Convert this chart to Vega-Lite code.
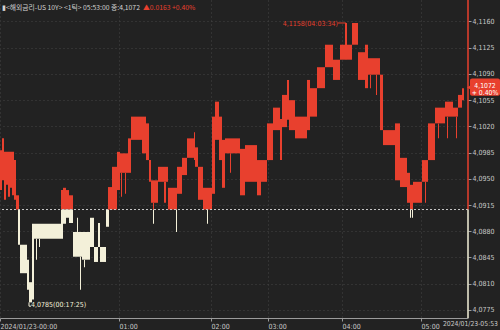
{
  "$schema": "https://vega.github.io/schema/vega-lite/v6.json",
  "width": 468,
  "height": 318,
  "autosize": {"type": "none"},
  "padding": {"left": 0, "top": 0, "right": 32, "bottom": 12},
  "background": "#222222",
  "config": {
    "view": {"stroke": null},
    "axis": {"labelOverlap": false, "labelFlush": false, "title": null},
    "axisY": {"labelOverlap": false},
    "axisX": {"labelOverlap": false}
  },
  "datasets": {
    "one": [{}],
    "ticks": [
      {"a":0,"b":2,"lo":4.0935,"hi":4.0988,"s":"u"},
      {"a":2,"b":4,"lo":4.0948,"hi":4.1004,"s":"u"},
      {"a":4,"b":6,"lo":4.0922,"hi":4.0986,"s":"u"},
      {"a":6,"b":8,"lo":4.0942,"hi":4.0986,"s":"u"},
      {"a":8,"b":10,"lo":4.0926,"hi":4.0986,"s":"u"},
      {"a":10,"b":12,"lo":4.0938,"hi":4.0986,"s":"u"},
      {"a":12,"b":14,"lo":4.0928,"hi":4.0986,"s":"u"},
      {"a":14,"b":16,"lo":4.0922,"hi":4.0975,"s":"u"},
      {"a":16,"b":19,"lo":4.0909,"hi":4.0928,"s":"u"},
      {"a":18,"b":20,"lo":4.0862,"hi":4.0909,"s":"d"},
      {"a":20,"b":27,"lo":4.0824,"hi":4.0862,"s":"d"},
      {"a":27,"b":29,"lo":4.0802,"hi":4.0842,"s":"d"},
      {"a":29,"b":32,"lo":4.0785,"hi":4.0812,"s":"d"},
      {"a":32,"b":34,"lo":4.0789,"hi":4.0890,"s":"d"},
      {"a":34,"b":63,"lo":4.0870,"hi":4.0890,"s":"d"},
      {"a":36,"b":37,"lo":4.0842,"hi":4.0870,"s":"d"},
      {"a":39,"b":40,"lo":4.0859,"hi":4.0870,"s":"d"},
      {"a":61,"b":63,"lo":4.0886,"hi":4.0909,"s":"d"},
      {"a":61,"b":63,"lo":4.0909,"hi":4.0935,"s":"u"},
      {"a":63,"b":66,"lo":4.0909,"hi":4.0938,"s":"u"},
      {"a":63,"b":66,"lo":4.0890,"hi":4.0909,"s":"d"},
      {"a":66,"b":69,"lo":4.0909,"hi":4.0935,"s":"u"},
      {"a":66,"b":69,"lo":4.0898,"hi":4.0909,"s":"d"},
      {"a":69,"b":73,"lo":4.0909,"hi":4.0928,"s":"u"},
      {"a":69,"b":73,"lo":4.0891,"hi":4.0909,"s":"d"},
      {"a":73,"b":82,"lo":4.0846,"hi":4.0879,"s":"d"},
      {"a":77,"b":78,"lo":4.0879,"hi":4.0898,"s":"d"},
      {"a":80,"b":81,"lo":4.0802,"hi":4.0846,"s":"d"},
      {"a":82,"b":90,"lo":4.0842,"hi":4.0879,"s":"d"},
      {"a":84,"b":85,"lo":4.0832,"hi":4.0842,"s":"d"},
      {"a":90,"b":94,"lo":4.0859,"hi":4.0898,"s":"d"},
      {"a":94,"b":98,"lo":4.0839,"hi":4.0859,"s":"d"},
      {"a":98,"b":100,"lo":4.0859,"hi":4.0891,"s":"d"},
      {"a":100,"b":106,"lo":4.0839,"hi":4.0859,"s":"d"},
      {"a":106,"b":109,"lo":4.0886,"hi":4.0909,"s":"d"},
      {"a":108,"b":112,"lo":4.0909,"hi":4.0939,"s":"u"},
      {"a":112,"b":117,"lo":4.0909,"hi":4.0966,"s":"u"},
      {"a":117,"b":120,"lo":4.0935,"hi":4.0986,"s":"u"},
      {"a":120,"b":128,"lo":4.0958,"hi":4.0984,"s":"u"},
      {"a":121,"b":122,"lo":4.0926,"hi":4.0958,"s":"u"},
      {"a":125,"b":126,"lo":4.0930,"hi":4.0958,"s":"u"},
      {"a":128,"b":131,"lo":4.0958,"hi":4.1004,"s":"u"},
      {"a":131,"b":142,"lo":4.1002,"hi":4.1033,"s":"u"},
      {"a":142,"b":146,"lo":4.0984,"hi":4.1033,"s":"u"},
      {"a":146,"b":149,"lo":4.0975,"hi":4.1024,"s":"u"},
      {"a":149,"b":151,"lo":4.0946,"hi":4.0975,"s":"u"},
      {"a":151,"b":158,"lo":4.0918,"hi":4.0948,"s":"u"},
      {"a":153,"b":154,"lo":4.0909,"hi":4.0918,"s":"u"},
      {"a":153,"b":154,"lo":4.0890,"hi":4.0909,"s":"d"},
      {"a":158,"b":168,"lo":4.0946,"hi":4.0966,"s":"u"},
      {"a":164,"b":166,"lo":4.0918,"hi":4.0946,"s":"u"},
      {"a":168,"b":177,"lo":4.0909,"hi":4.0938,"s":"u"},
      {"a":176,"b":177,"lo":4.0879,"hi":4.0909,"s":"d"},
      {"a":177,"b":182,"lo":4.0930,"hi":4.0966,"s":"u"},
      {"a":182,"b":187,"lo":4.0955,"hi":4.0978,"s":"u"},
      {"a":187,"b":194,"lo":4.0978,"hi":4.1004,"s":"u"},
      {"a":194,"b":195,"lo":4.0975,"hi":4.1012,"s":"u"},
      {"a":195,"b":198,"lo":4.0966,"hi":4.0992,"s":"u"},
      {"a":198,"b":203,"lo":4.0922,"hi":4.0966,"s":"u"},
      {"a":203,"b":212,"lo":4.0909,"hi":4.0938,"s":"u"},
      {"a":207,"b":208,"lo":4.0890,"hi":4.0909,"s":"d"},
      {"a":212,"b":215,"lo":4.0930,"hi":4.1033,"s":"u"},
      {"a":215,"b":219,"lo":4.1002,"hi":4.1053,"s":"u"},
      {"a":219,"b":222,"lo":4.0975,"hi":4.1033,"s":"u"},
      {"a":222,"b":225,"lo":4.0938,"hi":4.1002,"s":"u"},
      {"a":225,"b":240,"lo":4.0984,"hi":4.1004,"s":"u"},
      {"a":230,"b":231,"lo":4.0958,"hi":4.0984,"s":"u"},
      {"a":240,"b":245,"lo":4.0928,"hi":4.0990,"s":"u"},
      {"a":245,"b":257,"lo":4.0946,"hi":4.0995,"s":"u"},
      {"a":257,"b":261,"lo":4.0928,"hi":4.0975,"s":"u"},
      {"a":261,"b":267,"lo":4.0946,"hi":4.0975,"s":"u"},
      {"a":267,"b":273,"lo":4.0975,"hi":4.1024,"s":"u"},
      {"a":273,"b":280,"lo":4.1015,"hi":4.1045,"s":"u"},
      {"a":280,"b":282,"lo":4.0975,"hi":4.1030,"s":"u"},
      {"a":282,"b":287,"lo":4.1019,"hi":4.1062,"s":"u"},
      {"a":287,"b":289,"lo":4.1029,"hi":4.1082,"s":"u"},
      {"a":289,"b":295,"lo":4.1015,"hi":4.1055,"s":"u"},
      {"a":295,"b":307,"lo":4.1004,"hi":4.1033,"s":"u"},
      {"a":307,"b":310,"lo":4.1015,"hi":4.1082,"s":"u"},
      {"a":310,"b":317,"lo":4.1033,"hi":4.1071,"s":"u"},
      {"a":317,"b":325,"lo":4.1071,"hi":4.1099,"s":"u"},
      {"a":325,"b":333,"lo":4.1099,"hi":4.1129,"s":"u"},
      {"a":333,"b":340,"lo":4.1082,"hi":4.1109,"s":"u"},
      {"a":340,"b":345,"lo":4.1109,"hi":4.1129,"s":"u"},
      {"a":345,"b":347,"lo":4.1109,"hi":4.1158,"s":"u"},
      {"a":347,"b":352,"lo":4.1109,"hi":4.1129,"s":"u"},
      {"a":352,"b":358,"lo":4.1129,"hi":4.1158,"s":"u"},
      {"a":358,"b":365,"lo":4.1082,"hi":4.1119,"s":"u"},
      {"a":365,"b":368,"lo":4.1071,"hi":4.1129,"s":"u"},
      {"a":368,"b":380,"lo":4.1089,"hi":4.1111,"s":"u"},
      {"a":370,"b":371,"lo":4.1071,"hi":4.1089,"s":"u"},
      {"a":376,"b":377,"lo":4.1062,"hi":4.1089,"s":"u"},
      {"a":380,"b":383,"lo":4.1015,"hi":4.1089,"s":"u"},
      {"a":383,"b":395,"lo":4.0995,"hi":4.1015,"s":"u"},
      {"a":395,"b":400,"lo":4.0948,"hi":4.1024,"s":"u"},
      {"a":400,"b":407,"lo":4.0939,"hi":4.0978,"s":"u"},
      {"a":407,"b":410,"lo":4.0918,"hi":4.0958,"s":"u"},
      {"a":410,"b":413,"lo":4.0909,"hi":4.0942,"s":"u"},
      {"a":410,"b":411,"lo":4.0898,"hi":4.0909,"s":"d"},
      {"a":412,"b":413,"lo":4.0898,"hi":4.0909,"s":"d"},
      {"a":413,"b":422,"lo":4.0918,"hi":4.0946,"s":"u"},
      {"a":422,"b":428,"lo":4.0946,"hi":4.0975,"s":"u"},
      {"a":425,"b":426,"lo":4.0918,"hi":4.0946,"s":"u"},
      {"a":428,"b":435,"lo":4.0975,"hi":4.1024,"s":"u"},
      {"a":435,"b":445,"lo":4.1024,"hi":4.1045,"s":"u"},
      {"a":438,"b":439,"lo":4.1004,"hi":4.1024,"s":"u"},
      {"a":445,"b":453,"lo":4.1033,"hi":4.1053,"s":"u"},
      {"a":447,"b":448,"lo":4.1004,"hi":4.1033,"s":"u"},
      {"a":453,"b":458,"lo":4.1033,"hi":4.1045,"s":"u"},
      {"a":456,"b":457,"lo":4.1004,"hi":4.1033,"s":"u"},
      {"a":458,"b":462,"lo":4.1045,"hi":4.1062,"s":"u"},
      {"a":462,"b":464,"lo":4.1055,"hi":4.1071,"s":"u"}
    ]
  },
  "layer": [
    {
      "data": {"name": "ticks"},
      "mark": {"type": "rect"},
      "encoding": {
        "x": {
          "field": "a", "type": "quantitative",
          "scale": {"domain": [0, 468], "nice": false, "zero": false},
          "axis": {
            "orient": "bottom", "title": null,
            "values": [0, 119, 211, 268, 342, 421], "tickCount": 20,
            "labelExpr": "datum.value == 0 ? '2024/01/23-00:00' : datum.value == 119 ? '01:00' : datum.value == 211 ? '02:00' : datum.value == 268 ? '03:00' : datum.value == 342 ? '04:00' : '05:00'",
            "labelAlign": "left", "labelBaseline": "top", "labelPadding": 1,
            "labelColor": "#c8c8c8", "labelFont": "DejaVu Sans Condensed, sans-serif",
            "labelFontSize": 7, "labelOverlap": false, "labelFlush": false,
            "tickSize": 3, "tickColor": "#9a9a9a",
            "domainColor": "#9a9a9a", "domainWidth": 1,
            "grid": true, "gridColor": "#444444", "gridDash": [1, 3], "gridWidth": 1
          }
        },
        "x2": {"field": "b"},
        "y": {
          "field": "lo", "type": "quantitative",
          "scale": {"domain": [4.07642, 4.11887], "nice": false, "zero": false},
          "axis": {
            "orient": "right", "title": null,
            "values": [4.0775, 4.081, 4.0845, 4.088, 4.0915, 4.095, 4.0985, 4.102, 4.1055, 4.109, 4.1125, 4.116],
            "tickCount": 30,
            "labelExpr": "replace(format(datum.value, '.4f'), '.', ',')",
            "labelColor": "#c8c8c8", "labelFont": "DejaVu Sans Condensed, sans-serif",
            "labelFontSize": 7, "labelPadding": 1, "labelOverlap": false, "labelFlush": false,
            "tickSize": 3, "tickColor": "#9a9a9a", "domain": false,
            "grid": true, "gridColor": "#444444", "gridDash": [1, 3], "gridWidth": 1
          }
        },
        "y2": {"field": "hi"},
        "color": {
          "field": "s", "type": "nominal",
          "scale": {"domain": ["u", "d"], "range": ["#e8402e", "#f3f0d9"]},
          "legend": null
        }
      }
    },
    {
      "data": {"name": "one"},
      "mark": {"type": "rule", "color": "#c8c8c8", "strokeDash": [2, 2], "strokeWidth": 1},
      "encoding": {"y": {"datum": 4.0909}}
    },
    {
      "data": {"name": "one"},
      "mark": {"type": "rule", "color": "#e8402e", "strokeWidth": 1.5},
      "encoding": {
        "x": {"datum": 468},
        "y": {"datum": 4.0909},
        "y2": {"datum": 4.11887}
      }
    },
    {
      "data": {"name": "one"},
      "mark": {"type": "rule", "color": "#f3f0d9", "strokeWidth": 1.5},
      "encoding": {
        "x": {"datum": 468},
        "y": {"datum": 4.07642},
        "y2": {"datum": 4.0909}
      }
    },
    {
      "data": {"name": "one"},
      "mark": {"type": "rect", "color": "#e8402e", "cornerRadius": 2},
      "encoding": {
        "x": {"datum": 470},
        "x2": {"datum": 500},
        "y": {"datum": 4.1061},
        "y2": {"datum": 4.1084}
      }
    },
    {
      "data": {"name": "one"},
      "mark": {"type": "point", "shape": "triangle-left", "filled": true, "color": "#e8402e", "size": 22, "opacity": 1},
      "encoding": {
        "x": {"datum": 469},
        "y": {"datum": 4.1072}
      }
    },
    {
      "data": {"name": "one"},
      "mark": {"type": "text", "color": "#ffffff", "align": "center", "baseline": "middle", "font": "DejaVu Sans Condensed, sans-serif", "fontSize": 6.8, "lineHeight": 7.5, "text": ["4,1072", "+ 0.40%"]},
      "encoding": {
        "x": {"datum": 485},
        "y": {"datum": 4.10745}
      }
    },
    {
      "data": {"name": "one"},
      "mark": {"type": "text", "color": "#d2d2d2", "align": "left", "baseline": "middle", "font": "Noto Sans CJK KR, sans-serif", "fontSize": 6.8, "text": "▮<해외금리-US 10Y> <1틱> 05:53:00 종:4,1072"},
      "encoding": {
        "x": {"datum": 2},
        "y": {"datum": 4.1178}
      }
    },
    {
      "data": {"name": "one"},
      "mark": {"type": "text", "color": "#e8402e", "align": "left", "baseline": "middle", "font": "Noto Sans CJK KR, sans-serif", "fontSize": 6.8, "text": "▲0.0163  +0.40%"},
      "encoding": {
        "x": {"datum": 143},
        "y": {"datum": 4.1178}
      }
    },
    {
      "data": {"name": "one"},
      "mark": {"type": "text", "color": "#e8402e", "align": "right", "baseline": "middle", "font": "DejaVu Sans Condensed, sans-serif", "fontSize": 7, "text": "4,1158(04:03:34)"},
      "encoding": {
        "x": {"datum": 338},
        "y": {"datum": 4.1157}
      }
    },
    {
      "data": {"name": "one"},
      "mark": {"type": "rule", "color": "#e8402e", "strokeWidth": 1},
      "encoding": {
        "x": {"datum": 338},
        "x2": {"datum": 346},
        "y": {"datum": 4.1158}
      }
    },
    {
      "data": {"name": "one"},
      "mark": {"type": "text", "color": "#f3f0d9", "align": "left", "baseline": "middle", "font": "DejaVu Sans Condensed, sans-serif", "fontSize": 7, "text": "4,0785(00:17:25)"},
      "encoding": {
        "x": {"datum": 31},
        "y": {"datum": 4.0781}
      }
    },
    {
      "data": {"name": "one"},
      "mark": {"type": "rule", "color": "#f3f0d9", "strokeWidth": 1},
      "encoding": {
        "x": {"datum": 29},
        "y": {"datum": 4.0785},
        "y2": {"datum": 4.0780}
      }
    },
    {
      "data": {"name": "one"},
      "mark": {"type": "rule", "color": "#f3f0d9", "strokeWidth": 1},
      "encoding": {
        "x": {"datum": 29},
        "x2": {"datum": 31},
        "y": {"datum": 4.0780}
      }
    },
    {
      "data": {"name": "one"},
      "mark": {"type": "text", "color": "#c8c8c8", "align": "right", "baseline": "top", "font": "DejaVu Sans Condensed, sans-serif", "fontSize": 6.8, "text": "2024/01/23-05:53"},
      "encoding": {
        "x": {"datum": 498},
        "y": {"datum": 4.07596}
      }
    }
  ]
}
